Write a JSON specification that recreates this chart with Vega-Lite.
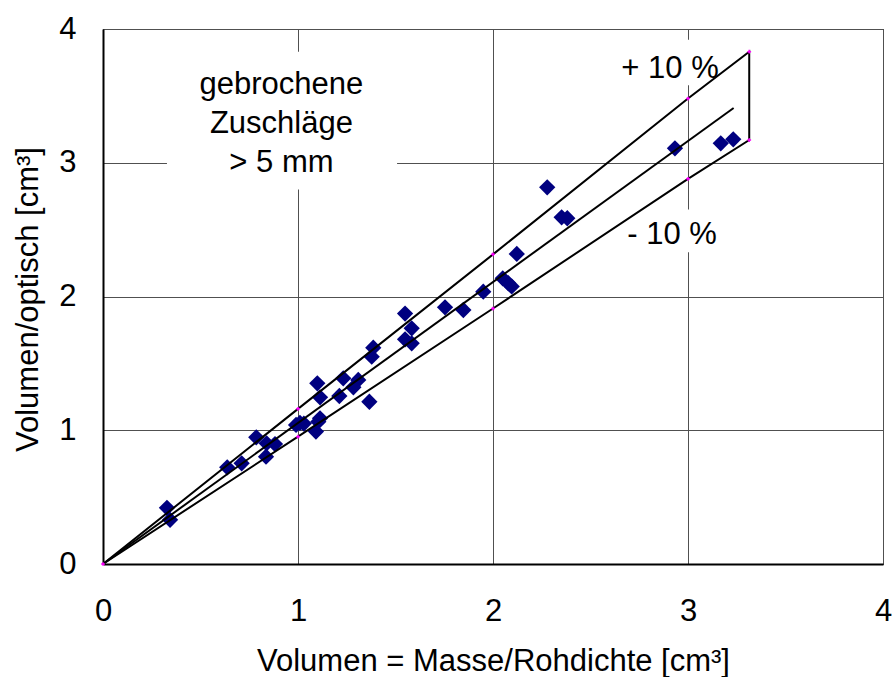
{
  "$schema": "https://vega.github.io/schema/vega-lite/v6.json",
  "width": 780,
  "height": 535,
  "autosize": "none",
  "padding": {"left": 103, "top": 29, "right": 13, "bottom": 113},
  "background": "white",
  "config": {
    "font": "Liberation Sans",
    "view": {"stroke": "black", "strokeWidth": 1},
    "axis": {
      "labelFont": "Liberation Sans",
      "titleFont": "Liberation Sans",
      "labelFontSize": 31,
      "titleFontSize": 31,
      "labelColor": "black",
      "titleColor": "black",
      "titleFontWeight": "normal",
      "domainColor": "black",
      "domainWidth": 2,
      "ticks": false,
      "tickSize": 0,
      "gridColor": "#505050",
      "gridWidth": 1,
      "gridOpacity": 1
    }
  },
  "encoding": {
    "x": {
      "field": "x", "type": "quantitative",
      "scale": {"domain": [0, 4], "nice": false, "zero": false},
      "axis": {
        "values": [0, 1, 2, 3, 4],
        "format": "d",
        "labelPadding": 32,
        "labelFlush": false,
        "title": "Volumen = Masse/Rohdichte [cm³]",
        "titleBaseline": "alphabetic",
        "titleY": 106
      }
    },
    "y": {
      "field": "y", "type": "quantitative",
      "scale": {"domain": [0, 4], "nice": false, "zero": false},
      "axis": {
        "values": [0, 1, 2, 3, 4],
        "format": "d",
        "labelPadding": 27,
        "labelFlush": false,
        "title": "Volumen/optisch [cm³]",
        "titleBaseline": "alphabetic",
        "titleX": -66,
        "titleY": 270
      }
    }
  },
  "layer": [
    {
      "data": {"values": [
        {"x": 0.328, "x2": 1.508, "y": 2.80, "y2": 3.83},
        {"x": 2.62, "x2": 3.19, "y": 3.58, "y2": 3.92},
        {"x": 2.67, "x2": 3.17, "y": 2.33, "y2": 2.65}
      ]},
      "mark": {"type": "rect", "fill": "white", "stroke": null},
      "encoding": {
        "x2": {"field": "x2"},
        "y2": {"field": "y2"}
      }
    },
    {
      "data": {"values": [
        {"x": 0.328, "y": 0.42}, {"x": 0.344, "y": 0.33}, {"x": 0.637, "y": 0.723},
        {"x": 0.711, "y": 0.753}, {"x": 0.786, "y": 0.947}, {"x": 0.836, "y": 0.802},
        {"x": 0.839, "y": 0.902}, {"x": 0.882, "y": 0.897}, {"x": 0.99, "y": 1.04},
        {"x": 1.01, "y": 1.055}, {"x": 1.03, "y": 1.05}, {"x": 1.092, "y": 0.99},
        {"x": 1.104, "y": 1.064}, {"x": 1.113, "y": 1.089}, {"x": 1.099, "y": 1.351},
        {"x": 1.113, "y": 1.246}, {"x": 1.212, "y": 1.256}, {"x": 1.232, "y": 1.388},
        {"x": 1.284, "y": 1.321}, {"x": 1.309, "y": 1.376}, {"x": 1.366, "y": 1.213},
        {"x": 1.378, "y": 1.55}, {"x": 1.386, "y": 1.617}, {"x": 1.549, "y": 1.872},
        {"x": 1.549, "y": 1.68}, {"x": 1.583, "y": 1.762}, {"x": 1.583, "y": 1.65},
        {"x": 1.754, "y": 1.919}, {"x": 1.848, "y": 1.899}, {"x": 1.95, "y": 2.036},
        {"x": 2.05, "y": 2.136}, {"x": 2.078, "y": 2.1}, {"x": 2.096, "y": 2.075},
        {"x": 2.122, "y": 2.318}, {"x": 2.278, "y": 2.816}, {"x": 2.352, "y": 2.592},
        {"x": 2.381, "y": 2.585}, {"x": 2.933, "y": 3.108}, {"x": 3.168, "y": 3.145},
        {"x": 3.232, "y": 3.175}
      ]},
      "mark": {"type": "point", "shape": "diamond", "filled": true, "size": 265, "color": "#000080", "opacity": 1}
    },
    {
      "data": {"values": [
        {"series": "band", "ord": 1, "x": 0, "y": 0},
        {"series": "band", "ord": 2, "x": 1, "y": 1.16},
        {"series": "band", "ord": 3, "x": 2, "y": 2.315},
        {"series": "band", "ord": 4, "x": 3, "y": 3.48},
        {"series": "band", "ord": 5, "x": 3.314, "y": 3.83},
        {"series": "band", "ord": 6, "x": 3.314, "y": 3.17},
        {"series": "band", "ord": 7, "x": 3, "y": 2.88},
        {"series": "band", "ord": 8, "x": 2, "y": 1.91},
        {"series": "band", "ord": 9, "x": 1, "y": 0.952},
        {"series": "band", "ord": 10, "x": 0, "y": 0},
        {"series": "mid", "ord": 1, "x": 0, "y": 0},
        {"series": "mid", "ord": 2, "x": 3.234, "y": 3.409}
      ]},
      "mark": {"type": "line", "color": "black", "strokeWidth": 2},
      "encoding": {
        "detail": {"field": "series"},
        "order": {"field": "ord", "type": "quantitative"}
      }
    },
    {
      "data": {"values": [
        {"x": 0, "y": 0},
        {"x": 1, "y": 1.16}, {"x": 2, "y": 2.315}, {"x": 3, "y": 3.48}, {"x": 3.314, "y": 3.83},
        {"x": 1, "y": 0.952}, {"x": 2, "y": 1.91}, {"x": 3, "y": 2.88}, {"x": 3.314, "y": 3.17}
      ]},
      "mark": {"type": "point", "shape": "cross", "filled": true, "size": 14, "color": "#FF00FF", "opacity": 1}
    },
    {
      "data": {"values": [
        {"x": 0.915, "y": 3.514, "label": "gebrochene"},
        {"x": 0.915, "y": 3.225, "label": "Zuschläge"},
        {"x": 0.915, "y": 2.933, "label": "> 5 mm"},
        {"x": 2.908, "y": 3.63, "label": "+ 10 %"},
        {"x": 2.918, "y": 2.39, "label": "- 10 %"}
      ]},
      "mark": {"type": "text", "font": "Liberation Sans", "fontSize": 31, "color": "black", "align": "center", "baseline": "alphabetic"},
      "encoding": {
        "text": {"field": "label"}
      }
    }
  ]
}
